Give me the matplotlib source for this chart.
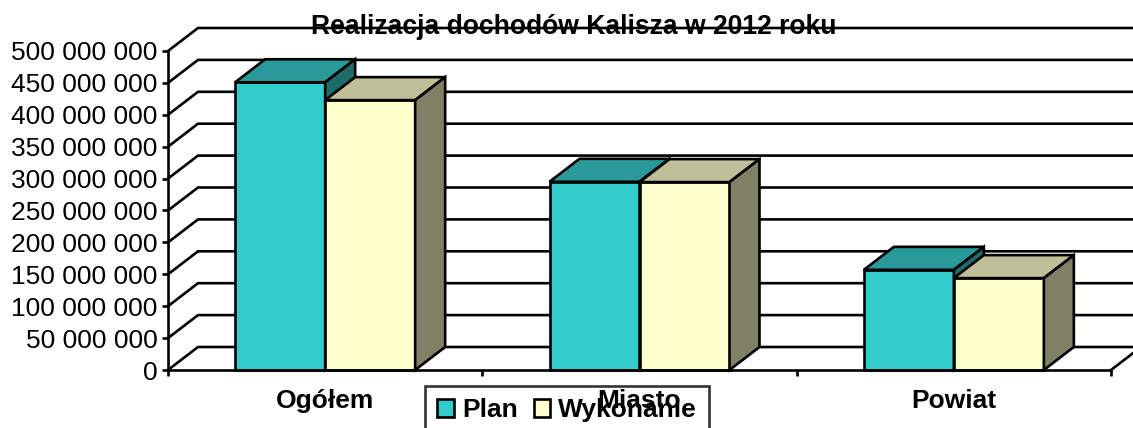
#!/usr/bin/env python3
# -*- coding: utf-8 -*-

import matplotlib
matplotlib.use('Agg')
import matplotlib.pyplot as plt
from matplotlib.patches import Patch, Polygon

categories = ['Ogółem', 'Miasto', 'Powiat']
plan = [451000000, 295000000, 157000000]
wykonanie = [423000000, 294500000, 144000000]
y_ticks = [0, 50000000, 100000000, 150000000, 200000000, 250000000,
           300000000, 350000000, 400000000, 450000000, 500000000]

W, H = 1133, 428
LW = 1.9

plt.rcParams['font.family'] = ['Liberation Sans', 'DejaVu Sans']
plt.rcParams['font.size'] = 19

fig = plt.figure(figsize=(W / 100, H / 100), dpi=100)
ax = fig.add_axes([168 / W, 1 - 370 / H, (1111 - 168) / W, (370 - 51) / H])
ax.set_xlim(0, 3)
ax.set_ylim(0, 500000000)

# depth of the fake 3D box, in data units
dx = 30 / (1111 - 168) * 3
dy = 23 / (370 - 51) * 500000000

# walls: slanted line on the left wall and a line along the back
for v in y_ticks:
    ax.plot([0, dx, 3 + dx], [v, v + dy, v + dy], color='black', lw=LW,
            clip_on=False, zorder=1, solid_joinstyle='miter')
ax.plot([3, 3 + dx], [0, dy], color='black', lw=LW, clip_on=False, zorder=1)


def draw_series(lefts, values, width, front, top, side, z):
    ax.bar(lefts, values, width=width, align='edge', color=front,
           edgecolor='black', linewidth=LW, zorder=z, clip_on=False)
    for x, v in zip(lefts, values):
        ax.add_patch(Polygon([(x, v), (x + dx, v + dy), (x + width + dx, v + dy), (x + width, v)],
                             facecolor=top, edgecolor='black', lw=LW, zorder=z, clip_on=False))
        ax.add_patch(Polygon([(x + width, 0), (x + width + dx, dy), (x + width + dx, v + dy), (x + width, v)],
                             facecolor=side, edgecolor='black', lw=LW, zorder=z, clip_on=False))


bar_w = 90 / (1111 - 168) * 3
centers = [0.5, 1.5, 2.5]
draw_series([c - bar_w for c in centers], plan, bar_w, '#33CCCC', '#299999', '#1F6B6B', 3)
draw_series(centers, wykonanie, bar_w, '#FFFFCC', '#BFBF99', '#808066', 4)

ax.spines['top'].set_visible(False)
ax.spines['right'].set_visible(False)
ax.spines['left'].set_linewidth(LW)
ax.spines['bottom'].set_linewidth(LW)
ax.spines['left'].set_zorder(2)
ax.spines['bottom'].set_zorder(5)

ax.set_yticks(y_ticks)
ax.set_yticklabels([f'{v:,}'.replace(',', ' ') for v in y_ticks])
ax.tick_params(axis='y', length=4, width=LW, pad=3.5)

ax.set_xticks([0, 1, 2, 3])
ax.set_xticklabels([])
ax.set_xticks(centers, minor=True)
ax.set_xticklabels(categories, minor=True, fontweight='bold')
ax.tick_params(axis='x', which='major', length=4, width=LW)
ax.tick_params(axis='x', which='minor', length=0, pad=13.5)

fig.text(573.5 / W, 1 - 26.5 / H, 'Realizacja dochodów Kalisza w 2012 roku',
         ha='center', va='center', fontweight='bold', fontsize=19.1, zorder=10)

handles = [Patch(facecolor='#33CCCC', edgecolor='black', lw=LW, label='Plan'),
           Patch(facecolor='#FFFFCC', edgecolor='black', lw=LW, label='Wykonanie')]
leg = fig.legend(handles=handles, loc='upper left', bbox_to_anchor=(425 / W, 1 - 386 / H),
                 ncol=2, borderaxespad=0, borderpad=0.46, handlelength=0.64, handleheight=0.64,
                 handletextpad=0.3, columnspacing=0.6, fancybox=False,
                 edgecolor='black', prop={'weight': 'bold', 'size': 19})
leg.get_frame().set_facecolor('none')
leg.get_frame().set_linewidth(LW)

fig.savefig('out.png', dpi=100)
plt.close(fig)
